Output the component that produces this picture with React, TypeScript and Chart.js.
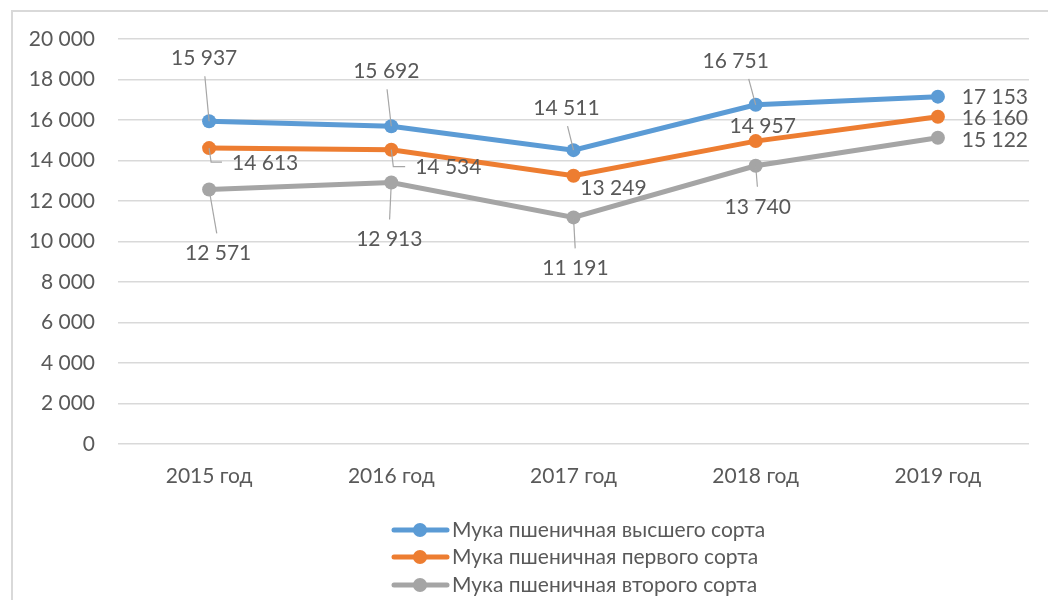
import React, { useEffect, useRef } from "react";
import { Chart, registerables } from "chart.js";

Chart.register(...registerables);

const categories = ["2015 год", "2016 год", "2017 год", "2018 год", "2019 год"];
const seriesNames = [
  "Мука пшеничная высшего сорта",
  "Мука пшеничная первого сорта",
  "Мука пшеничная второго сорта",
];
const highestGrade = [15937, 15692, 14511, 16751, 17153];
const firstGrade = [14613, 14534, 13249, 14957, 16160];
const secondGrade = [12571, 12913, 11191, 13740, 15122];
const yTicks = [0, 2000, 4000, 6000, 8000, 10000, 12000, 14000, 16000, 18000, 20000];

const COLORS = ["#5b9bd5", "#ed7d31", "#a5a5a5"];
const TEXT = "#595959";
const FONT = "Lato, 'Open Sans', sans-serif";

// label placement (style): [dx, dy, leader] relative to the point
type Place = [number, number, "none" | "line" | "elbow"];
const labelPlacement: Place[][] = [
  [[-5, -63, "line"], [-5, -55, "line"], [-7, -42, "line"], [-20, -44, "line"], [57, 1, "none"]],
  [[56, 15, "elbow"], [57, 18, "elbow"], [40, 13, "none"], [7, -15, "none"], [57, 1, "none"]],
  [[9, 64, "line"], [-2, 57, "line"], [2, 51, "line"], [2, 41, "line"], [57, 2, "none"]],
];

const fmt = (v: number) => {
  const s = Math.round(v).toString();
  return s.replace(/\B(?=(\d{3})+(?!\d))/g, " ");
};

const labelsPlugin = {
  id: "dataLabelsCustom",
  afterDatasetsDraw(chart: any) {
    const ctx = chart.ctx;
    ctx.save();
    ctx.font = `21px ${FONT}`;
    ctx.textAlign = "center";
    ctx.textBaseline = "middle";
    chart.data.datasets.forEach((ds: any, i: number) => {
      const meta = chart.getDatasetMeta(i);
      meta.data.forEach((pt: any, j: number) => {
        const [dx, dy, leader] = labelPlacement[i][j];
        const tx = pt.x + dx;
        const ty = pt.y + dy;
        const text = fmt(ds.data[j]);
        const w = ctx.measureText(text).width;
        ctx.strokeStyle = "#a6a6a6";
        ctx.lineWidth = 1.2;
        if (leader === "line") {
          const endY = dy < 0 ? ty + 18 : ty - 20;
          ctx.beginPath();
          ctx.moveTo(pt.x, pt.y);
          ctx.lineTo(tx - dx * 0.15 + (dx < -10 ? -dx * 0.5 : 0), endY);
          ctx.stroke();
        } else if (leader === "elbow") {
          ctx.beginPath();
          ctx.moveTo(pt.x, pt.y);
          ctx.lineTo(pt.x + 2, ty - 1);
          ctx.lineTo(tx - w / 2 - 10, ty - 1);
          ctx.stroke();
        }
        ctx.fillStyle = TEXT;
        ctx.fillText(text, tx, ty);
      });
    });
    ctx.restore();
  },
};

const legendPlugin = {
  id: "legendCustom",
  afterDraw(chart: any) {
    const ctx = chart.ctx;
    ctx.save();
    ctx.font = `21px ${FONT}`;
    ctx.textBaseline = "middle";
    ctx.textAlign = "left";
    const rows = [530, 557, 585];
    chart.data.datasets.forEach((ds: any, i: number) => {
      const y = rows[i];
      ctx.strokeStyle = ds.borderColor;
      ctx.lineWidth = 5;
      ctx.lineCap = "round";
      ctx.beginPath();
      ctx.moveTo(394, y);
      ctx.lineTo(447, y);
      ctx.stroke();
      ctx.fillStyle = ds.borderColor;
      ctx.beginPath();
      ctx.arc(420, y, 7, 0, Math.PI * 2);
      ctx.fill();
      ctx.fillStyle = TEXT;
      ctx.fillText(ds.label, 452, y);
    });
    ctx.restore();
  },
};

export default function App() {
  const ref = useRef<HTMLCanvasElement | null>(null);
  useEffect(() => {
    if (!ref.current) return;
    const chart = new Chart(ref.current, {
      type: "line",
      data: {
        labels: categories,
        datasets: [highestGrade, firstGrade, secondGrade].map((d, i) => ({
          label: seriesNames[i],
          data: d,
          borderColor: COLORS[i],
          backgroundColor: COLORS[i],
          pointBackgroundColor: COLORS[i],
          pointBorderWidth: 0,
          pointRadius: 7,
          borderWidth: 5,
          tension: 0,
          fill: false,
        })),
      },
      options: {
        animation: false,
        responsive: false,
        devicePixelRatio: 1,
        layout: { padding: { left: 20, right: 19, top: 39, bottom: 100 } },
        plugins: {
          legend: { display: false },
          tooltip: { enabled: false },
        },
        scales: {
          x: {
            offset: true,
            grid: { display: false, drawTicks: false, offset: true },
            border: { display: false },
            ticks: { color: TEXT, font: { family: FONT, size: 21 }, padding: 20, maxRotation: 0 },
            afterFit: (s: any) => {
              s.height = 56;
            },
          },
          y: {
            min: 0,
            max: 20000,
            afterBuildTicks: (s: any) => {
              s.ticks = yTicks.map((v) => ({ value: v }));
            },
            grid: { color: "#d9d9d9", lineWidth: 1.5, drawTicks: false },
            border: { display: false },
            ticks: {
              color: TEXT,
              font: { family: FONT, size: 21 },
              padding: 23,
              callback: (v: any) => fmt(Number(v)),
            },
            afterFit: (s: any) => {
              s.width = 98;
            },
          },
        },
      },
      plugins: [labelsPlugin, legendPlugin],
    });
    return () => chart.destroy();
  }, []);
  return (
    <div style={{ position: "fixed", left: 0, top: 0, width: 1048, height: 600, background: "#fff", overflow: "hidden" }}>
      <div
        style={{
          position: "absolute",
          left: 11,
          top: 10,
          width: 1060,
          height: 620,
          border: "2px solid #d9d9d9",
          boxSizing: "border-box",
        }}
      />
      <canvas ref={ref} width={1048} height={600} style={{ position: "absolute", left: 0, top: 0 }} />
    </div>
  );
}
